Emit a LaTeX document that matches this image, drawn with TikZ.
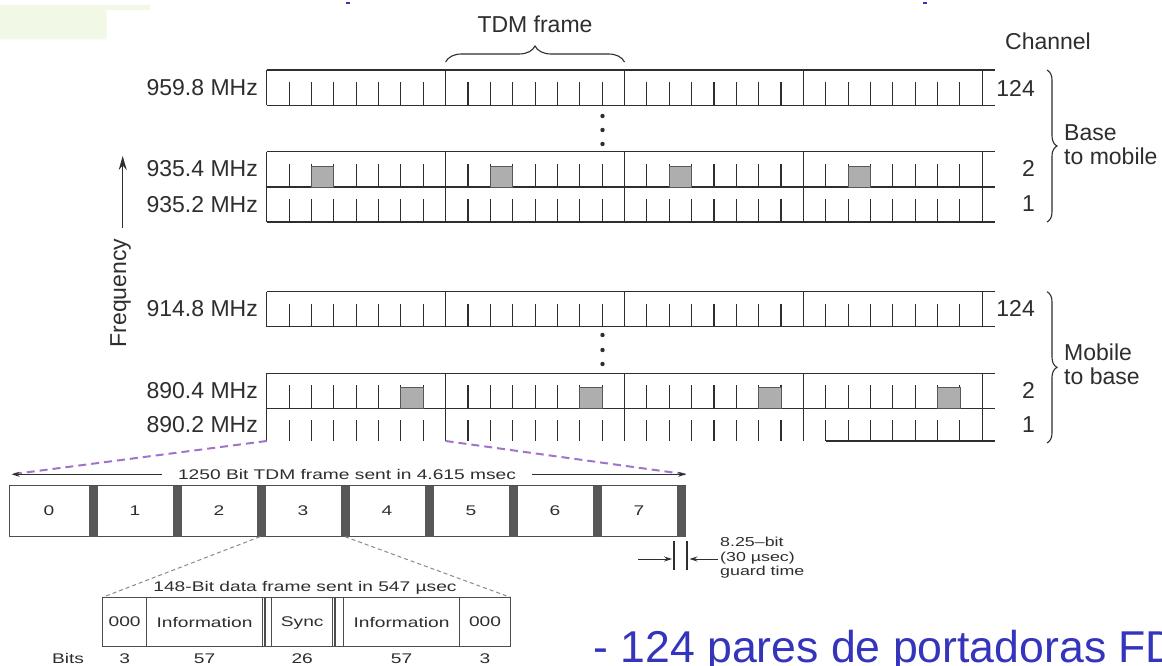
\documentclass[tikz,border=0pt]{standalone}
\usepackage{fontspec}
\setmainfont{Liberation Sans}
\usepackage{graphicx}
\usetikzlibrary{arrows.meta,decorations.pathreplacing}
\definecolor{ink}{HTML}{2E2E2E}
\definecolor{slotgray}{HTML}{AEAEAE}
\definecolor{bargray}{HTML}{585858}
\definecolor{lilac}{HTML}{A274C9}
\definecolor{dashgray}{HTML}{8A8A8A}
\definecolor{slideblue}{HTML}{3434BC}
\definecolor{paleleaf}{HTML}{F1F9E6}
\newcommand{\wide}[1]{\scalebox{1.37}[1]{#1}}

\begin{document}
\begin{tikzpicture}[
  x=1pt, y=-1pt,
  every node/.style={inner sep=0pt, text=ink},
  biglbl/.style={font=\fontsize{23}{24}\selectfont},
  minilbl/.style={font=\fontsize{14}{15}\selectfont},
  guardlbl/.style={font=\fontsize{13}{14.5}\selectfont, align=left, anchor=west},
  rowline/.style={draw=ink, line width=1.2pt},
  slottick/.style={draw=ink, line width=1.1pt},
  slotfill/.style={fill=slotgray, draw=ink!80, line width=0.8pt},
  bracepath/.style={decorate, decoration={brace, amplitude=#1}, draw=ink, line width=1.1pt},
  bracepath/.default=10pt,
  framebox/.style={draw=ink!85, line width=1.2pt},
  dimarr/.style={-{Stealth[length=8pt,width=5pt]}, draw=ink, line width=1pt},
  freqarr/.style={-{Stealth[length=14pt,width=8pt]}, draw=ink, line width=1.3pt},
  lilacdash/.style={draw=lilac, line width=2pt, dash pattern=on 8pt off 5pt},
  graydash/.style={draw=dashgray, line width=1pt, dash pattern=on 4pt off 3pt}
]
\def\fw{178.9}
\def\sw{22.3625}

\fill[white] (0,0) rectangle (1162,666);
\useasboundingbox (0,0) rectangle (1162,666);
\clip (0,0) rectangle (1162,666);

% --- slide remnants ---
\fill[paleleaf] (0,5) -- (150,5) -- (150,10) -- (106.7,10) -- (106.7,39.3) -- (0,39.3) -- cycle;
\fill[slideblue] (346,2) rectangle ++(4,2.5);
\fill[slideblue] (923,2) rectangle ++(4,2.5);

% --- carrier rows ---
\foreach \rt/\rb in {70/105.5, 151.7/187, 187/222, 291.7/326.7, 373.3/408.3} {
  \draw[rowline] (266.7,\rt) -- (995,\rt) (266.7,\rb) -- (995,\rb);
  \foreach \f in {0,...,4}
    \draw[rowline] (266.7+\f*\fw,\rt) -- (266.7+\f*\fw,\rb);
  \foreach \f in {0,...,3}
    \foreach \s in {1,...,7}
      \draw[slottick] (266.7+\f*\fw+\s*\sw,\rb-23) -- (266.7+\f*\fw+\s*\sw,\rb);
}
% open row 890.2 MHz
\foreach \f in {0,...,4}
  \draw[rowline] (266.7+\f*\fw,408.3) -- (266.7+\f*\fw,441);
\foreach \f in {0,...,3}
  \foreach \s in {1,...,7}
    \draw[slottick] (266.7+\f*\fw+\s*\sw,420) -- (266.7+\f*\fw+\s*\sw,441);
\draw[rowline] (266.7+3*\fw+\sw,441) -- (995,441);

% busy slots
\foreach \f in {0,...,3} {
  \draw[slotfill] (266.7+\f*\fw+2*\sw,166) rectangle ++(\sw,21);
  \draw[slotfill] (266.7+\f*\fw+6*\sw,387.3) rectangle ++(\sw,21);
}

% vertical ellipses
\foreach \y in {116,130,144,335,350,364}
  \fill[ink] (602.5,\y) circle (2.2);

% frequency labels
\foreach \nm/\y/\txt in {f1/88/959.8, f2/169/935.4, f3/205/935.2, f4/309/914.8, f5/391/890.4, f6/425/890.2}
  \node[biglbl, anchor=east] (\nm) at (258,\y) {\txt\ MHz};

% channel numbers
\foreach \nm/\y/\txt in {c1/88/124, c2/168/2, c3/204/1, c4/308/124, c5/390/2, c6/425/1}
  \node[biglbl, anchor=east] (\nm) at (1035,\y) {\txt};
\node[biglbl] (chan) at (1048,41) {Channel};

% braces
\node[biglbl] (tdmtitle) at (535,24) {TDM frame};
\draw[bracepath=16pt] (445.6,62) -- (624.5,62);
\draw[bracepath] (1047,70) -- (1047,222);
\draw[bracepath] (1047,291.7) -- (1047,443);
\node[biglbl, anchor=west, align=left] (down) at (1064,145) {Base\\to mobile};
\node[biglbl, anchor=west, align=left] (up) at (1064,364.5) {Mobile\\to base};

% frequency axis
\coordinate (fqlow) at (122.7,228);
\coordinate (fqhigh) at (122.7,156);
\draw[freqarr] (fqlow) -- (fqhigh);
\node[biglbl, rotate=90] (fqlbl) at (120.5,293) {Frequency};

% --- TDM frame blow-up ---
\coordinate (zoomA) at (266.7,441);
\coordinate (zoomB) at (445.6,441);
\coordinate (tdmL) at (11.7,474.3);
\coordinate (tdmR) at (686,474.3);
\draw[lilacdash] (zoomA) -- (tdmL);
\draw[lilacdash] (zoomB) -- (tdmR);
\node[minilbl, inner xsep=16pt] (tdmtxt) at (347,474.3) {\wide{1250 Bit TDM frame sent in 4.615 msec}};
\draw[dimarr] (tdmtxt.west) -- (tdmL);
\draw[dimarr] (tdmtxt.east) -- (tdmR);

\draw[framebox] (9.3,485.7) rectangle (685.5,536.7);
\foreach \k in {0,...,7}
  \fill[bargray] (88.5+84*\k,485.7) rectangle ++(9,51);
\node[minilbl] (slot0) at (48.9,511) {\wide{0}};
\foreach \k in {1,...,7}
  \node[minilbl] (slot\k) at (51+84*\k,511) {\wide{\k}};

% guard time
\coordinate (gdA) at (674,541);
\coordinate (gdB) at (687,541);
\draw[slottick] (gdA) -- ++(0,29);
\draw[slottick] (gdB) -- ++(0,29);
\coordinate (gin) at (638,559);
\coordinate (gintip) at (672,559);
\coordinate (gout) at (718,559);
\coordinate (gouttip) at (689.5,559);
\draw[dimarr] (gin) -- (gintip);
\draw[dimarr] (gout) -- (gouttip);
\node[guardlbl] (guard) at (720,558) {\wide{8.25--bit}\\\wide{(30 µsec)}\\\wide{guard time}};

% --- data frame blow-up ---
\coordinate (dfA) at (260,536.7);
\coordinate (dfB) at (345,536.7);
\coordinate (dfNW) at (102.6,597.3);
\coordinate (dfNE) at (510.4,597.3);
\draw[graydash] (dfA) -- (dfNW);
\draw[graydash] (dfB) -- (dfNE);
\node[minilbl] (dftxt) at (305,588.3) {\wide{148-Bit data frame sent in 547 µsec}};
\draw[framebox] (dfNW) rectangle (510.4,646.5);
\foreach \x in {146.6,262.7,265,271.7,332.7,335,343.3,459.6}
  \draw[framebox] (\x,597.3) -- (\x,646.5);
\foreach \nm/\x/\y/\txt in {d1/124.6/622/000, d2/204.6/622/Information, d3/302.2/623.5/Sync, d4/401.5/622/Information, d5/485/622/000}
  \node[minilbl] (\nm) at (\x,\y) {\wide{\txt}};
\foreach \nm/\x/\txt in {b0/68/Bits, b1/124.6/3, b2/204.6/57, b3/302.2/26, b4/401.5/57, b5/485/3}
  \node[minilbl] (\nm) at (\x,658.5) {\wide{\txt}};

% slide text
\node[font=\fontsize{44.6}{50}\selectfont, text=slideblue, anchor=base west] (pares) at (593,662) {- 124 pares de portadoras FD};

\end{tikzpicture}
\end{document}
